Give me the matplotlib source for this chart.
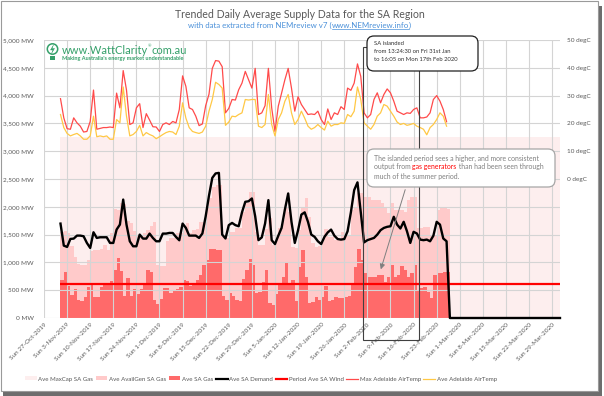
import numpy as np
import pandas as pd
import matplotlib
matplotlib.use('Agg')
import matplotlib.pyplot as plt
import matplotlib.dates as mdates
from matplotlib.patches import Rectangle, FancyBboxPatch, Patch, Circle, Polygon, FancyArrowPatch
from matplotlib.lines import Line2D
from matplotlib.transforms import blended_transform_factory, Affine2D

plt.rcParams['font.family'] = ['Lato', 'DejaVu Sans']

# ---------------- data ----------------
start_date = '2019-11-01'
gas = [690, 834, 570, 420, 520, 330, 300, 370, 560, 600,
       370, 370, 560, 600, 590, 660, 870, 1075, 850, 390,
       725, 390, 520, 440, 520, 630, 860, 820, 330, 250,
       340, 540, 540, 450, 500, 520, 560, 690, 660, 580,
       600, 690, 780, 960, 1050, 1240, 1240, 1230, 1230, 400,
       330, 450, 390, 320, 300, 700, 870, 1060, 960, 450,
       470, 650, 860, 270, 240, 440, 600, 740, 1010, 620,
       680, 300, 920, 1220, 740, 270, 290, 380, 320, 380,
       580, 300, 320, 380, 360, 360, 380, 400, 600, 924,
       1236, 1044, 804, 744, 744, 744, 774, 774, 654, 744,
       954, 744, 774, 936, 864, 744, 804, 954, 504, 534,
       564, 474, 354, 774, 804, 804, 820, 830]
avail = [1548, 1560, 1530, 1290, 1100, 970, 960, 960, 1050, 1200,
         1230, 1230, 1240, 1320, 1230, 1530, 1960, 1950, 2070, 2050,
         1740, 1710, 1560, 1480, 1480, 1530, 1590, 1650, 1720, 960,
         930, 930, 1380, 1440, 1440, 1530, 1530, 1650, 1700, 1530,
         1590, 1600, 1720, 1720, 1980, 2150, 2350, 2400, 2400, 1450,
         1434, 1554, 1554, 1614, 1620, 1914, 2064, 2274, 2274, 1554,
         1314, 1314, 1600, 1794, 1314, 1404, 1614, 1764, 2004, 1900,
         1284, 1254, 1584, 1974, 2154, 1824, 1344, 1284, 1300, 1374,
         1600, 1464, 1464, 1400, 1420, 1554, 1494, 1494, 1944, 2000,
         2244, 2244, 2184, 2184, 2124, 2124, 2124, 2064, 2004, 1884,
         2064, 1944, 1944, 1944, 1914, 2124, 2184, 2184, 1614, 1614,
         1644, 1644, 1500, 1500, 1944, 2000, 1980, 1960]
demand = [1698, 1302, 1278, 1422, 1428, 1482, 1482, 1470, 1350, 1260,
          1542, 1440, 1452, 1452, 1452, 1350, 1350, 1590, 1680, 2130,
          1680, 1380, 1290, 1290, 1500, 1428, 1428, 1518, 1440, 1380,
          1380, 1518, 1518, 1530, 1530, 1458, 1398, 1698, 1620, 1482,
          1482, 1482, 1440, 1520, 1830, 2200, 2520, 2600, 2610, 1500,
          1430, 1670, 1710, 1670, 1650, 1900, 2090, 2100, 2150, 1830,
          1400, 1450, 1700, 2120, 1400, 1330, 1480, 1620, 1950, 2240,
          1730, 1350, 1580, 1860, 1900, 1730, 1500, 1460, 1380, 1330,
          1460, 1540, 1590, 1480, 1420, 1410, 1420, 1560, 1900, 2300,
          2440, 1900, 1360, 1400, 1420, 1440, 1500, 1580, 1620, 1640,
          1650, 1820, 1680, 1610, 1730, 1560, 1350, 1550, 1520, 1410,
          1400, 1410, 1380, 1480, 1730, 1680, 1430, 1380]
max_temp = [28.9, 22.0, 18.1, 17.9, 22.0, 20.2, 19.0, 16.9, 17.1, 20.7,
            32.0, 17.9, 18.2, 18.5, 18.5, 18.7, 18.5, 30.9, 25.6, 39.0,
            32.0, 19.6, 20.2, 25.6, 27.1, 18.5, 23.5, 21.2, 18.8, 18.7,
            17.1, 19.6, 20.2, 19.6, 20.7, 20.2, 25.0, 37.1, 33.3, 25.6,
            25.0, 22.6, 19.2, 19.8, 26.4, 30.5, 39.8, 42.6, 42.4, 40.4,
            23.8, 25.4, 28.6, 28.4, 32.1, 34.5, 38.7, 35.7, 32.7, 39.8,
            23.2, 23.8, 26.4, 39.8, 25.6, 17.1, 26.2, 30.9, 35.7, 39.8,
            32.7, 24.4, 29.6, 26.8, 25.0, 23.2, 23.4, 23.2, 24.4, 21.4,
            19.6, 25.2, 21.4, 23.8, 23.2, 26.0, 25.0, 32.7, 31.9, 34.5,
            41.4, 36.9, 23.8, 22.0, 23.2, 28.6, 31.0, 27.4, 30.4, 32.4,
            31.0, 28.0, 24.4, 23.8, 23.2, 23.8, 23.6, 25.0, 25.6, 22.0,
            22.0, 22.3, 23.8, 28.6, 30.0, 28.0, 25.0, 20.6]
ave_temp = [23.2, 18.5, 16.4, 15.5, 16.0, 16.4, 15.5, 14.3, 14.3, 15.5,
            22.6, 15.2, 15.5, 15.2, 15.5, 14.3, 14.3, 21.4, 20.2, 33.1,
            22.6, 15.5, 16.0, 17.1, 19.3, 15.5, 16.7, 16.0, 15.5, 14.5,
            15.2, 16.0, 16.7, 17.1, 16.9, 16.0, 19.0, 27.4, 21.9, 18.5,
            17.1, 16.7, 16.4, 16.9, 19.0, 24.4, 28.6, 34.8, 34.0, 32.7,
            19.3, 20.5, 22.6, 22.4, 23.2, 23.8, 28.6, 28.4, 28.6, 28.6,
            19.0, 18.5, 19.6, 30.4, 19.6, 15.5, 21.4, 23.8, 28.0, 30.4,
            23.8, 19.6, 21.4, 24.4, 21.9, 19.0, 17.9, 18.5, 19.6, 18.5,
            17.6, 20.8, 19.0, 19.6, 19.6, 20.2, 20.0, 23.2, 22.4, 24.4,
            33.1, 28.6, 20.2, 19.0, 17.9, 19.6, 22.6, 23.8, 26.8, 26.2,
            24.4, 22.6, 20.5, 19.6, 20.0, 19.3, 19.6, 20.0, 19.0, 18.5,
            17.9, 15.9, 18.5, 19.6, 21.4, 23.8, 22.6, 19.0]
maxcap_dates = ['2019-11-01 00:00', '2020-03-31 09:00']
maxcap_values = [3260, 3260]
wind_dates = ['2019-11-01 00:00', '2020-03-31 09:00']
wind_values = [615, 615]
demand_tail_dates = ['2020-02-27 00:00', '2020-03-31 09:00']
demand_tail_values = [0, 0]
islanded = ['2020-01-31 13:24:30', '2020-02-17 16:05:00']

mw_ticks = [0, 500, 1000, 1500, 2000, 2500, 3000, 3500, 4000, 4500, 5000]
degc_ticks = [0, 10, 20, 30, 40, 50]

# ---------------- colours ----------------
c_maxcap = '#fdeeee'
c_avail = '#ffcaca'
c_gas = '#ff6a6a'
c_demand = '#000000'
c_wind = '#ff0000'
c_tmax = '#ff4a4a'
c_tave = '#ffc845'
c_text = '#595959'

W, H = 604, 396
fig = plt.figure(figsize=(W / 100, H / 100), dpi=100)
fig.patch.set_facecolor('white')


def fx(px):
    return px / W


def fy(py):
    return 1 - py / H


def to_dt(lst):
    return pd.to_datetime(lst, format='%Y-%m-%d %H:%M')


ax = fig.add_axes([fx(44), fy(318), (560 - 44) / W, (318 - 40) / H])
ax.set_facecolor('none')

dates = pd.date_range(start_date, periods=len(gas), freq='D')
edges = pd.date_range(start_date, periods=len(gas) + 1, freq='D')
x0 = pd.Timestamp('2019-10-27')
x1 = pd.Timestamp('2020-03-31 09:00')

# columns (drawn as stepped areas so adjacent days join seamlessly)
ax.fill_between(to_dt(maxcap_dates), maxcap_values, 0, color=c_maxcap, lw=0, zorder=0.5)
ax.fill_between(edges, list(avail) + [avail[-1]], 0, step='post', color=c_avail, lw=0, zorder=0.8)
ax.fill_between(edges, list(gas) + [gas[-1]], 0, step='post', color=c_gas, lw=0, zorder=0.9)

# lines
dem_x = list(dates) + list(to_dt(demand_tail_dates))
dem_y = list(demand) + list(demand_tail_values)
ax.plot(to_dt(wind_dates), wind_values, color=c_wind, lw=1.6, zorder=2.2, solid_capstyle='butt')
ax.plot(dem_x, dem_y, color=c_demand, lw=1.7, zorder=2.5, clip_on=False, solid_joinstyle='round')

ax.set_xlim(x0, x1)
ax.set_ylim(0, 5000)
ax.set_yticks(mw_ticks)
ax.set_yticklabels([f'{v:,} MW' for v in mw_ticks], fontsize=4.6, color=c_text)

week_ticks = pd.date_range('2019-10-27', '2020-03-29', freq='7D')
ax.set_xticks(week_ticks)
ax.set_xticklabels([f'{d:%a} {d.day}-{d:%b-%Y}' for d in week_ticks], rotation=45,
                   ha='right', va='top', rotation_mode='anchor', fontsize=4.6, color=c_text)
ax.tick_params(axis='both', length=0)
ax.tick_params(axis='y', pad=7.5)
ax.tick_params(axis='x', pad=3)
ax.set_axisbelow('line')
ax.grid(True, color='#d4d4d4', lw=0.8)
for s in ax.spines.values():
    s.set_visible(False)

# secondary axis
ax2 = ax.twinx()
ax2.plot(dates, max_temp, color=c_tmax, lw=0.9, zorder=3)
ax2.plot(dates, ave_temp, color=c_tave, lw=0.9, zorder=3)
ax2.set_ylim(-50, 50)
ax2.set_yticks(degc_ticks)
ax2.set_yticklabels([f'{v} degC' for v in degc_ticks], fontsize=4.6, color=c_text)
ax2.tick_params(axis='y', length=0, pad=5)
for s in ax2.spines.values():
    s.set_visible(False)
ax2.set_xlim(x0, x1)

# islanded bracket
tr = blended_transform_factory(ax2.transData, ax2.transAxes)
xa = mdates.date2num(pd.Timestamp(islanded[0]))
xb = mdates.date2num(pd.Timestamp(islanded[1]))
ya = (318 - 340) / 278
yb = (318 - 47) / 278
ax2.add_patch(Rectangle((xa, ya), xb - xa, yb - ya, transform=tr, fill=False,
                        ec='#404040', lw=0.8, clip_on=False, zorder=6))

# ---------------- annotation boxes (inch coordinates) ----------------
dt = fig.dpi_scale_trans


def box(px0, py0, px1, py1, ec, lw):
    p = FancyBboxPatch((px0 / 100, (H - py1) / 100), (px1 - px0) / 100, (py1 - py0) / 100,
                       boxstyle='round,pad=0,rounding_size=0.07', transform=dt,
                       fc='white', ec=ec, lw=lw, zorder=10)
    fig.add_artist(p)


box(367, 36, 478, 71, '#202020', 0.9)
for i, t in enumerate(['SA islanded', 'from 13:24:30 on Fri 31st Jan', 'to 16:05 on Mon 17th Feb 2020']):
    fig.text(fx(374), fy(43.5 + 8.2 * i), t, fontsize=4.2, color='#303030', va='center', ha='left', zorder=11)

box(367, 149, 555, 187, '#a6a6a6', 0.9)
fig.add_artist(FancyArrowPatch((406 / 100, (H - 187) / 100), (380 / 100, (H - 272) / 100),
               transform=dt, arrowstyle='-|>,head_length=3,head_width=1.5', color='#7f7f7f', lw=0.7,
               mutation_scale=1, zorder=9))

renderer = fig.canvas.get_renderer()


def rich_line(px, py, pieces, size):
    xcur = fx(px)
    for txt, col in pieces:
        t = fig.text(xcur, fy(py), txt, fontsize=size, color=col, va='center', ha='left', zorder=11)
        bb = t.get_window_extent(renderer=renderer)
        xcur += bb.width / W


grey = '#7f7f7f'
rich_line(374, 158, [('The islanded period sees a higher, and more consistent', grey)], 4.95)
rich_line(374, 167, [('output from ', grey), ('gas generators', '#ff0000'), (' than had been seen through', grey)], 4.95)
rich_line(374, 176, [('much of the summer period.', grey)], 4.95)

# ---------------- titles ----------------
fig.text(0.497, fy(14), 'Trended Daily Average Supply Data for the SA Region', ha='center', va='center',
         fontsize=7.6, color=c_text)
sub_size = 5.7
sub = fig.text(fx(188), fy(25.5), 'with data extracted from NEMreview v7 (', ha='left', va='center',
               fontsize=sub_size, color='#4a90d9')
bb = sub.get_window_extent(renderer=renderer)
lnk = fig.text(fx(188) + bb.width / W, fy(25.5), 'www.NEMreview.info', ha='left', va='center',
               fontsize=sub_size, color='#4a90d9')
bb2 = lnk.get_window_extent(renderer=renderer)
fig.add_artist(Line2D([bb2.x0 / W, bb2.x1 / W], [bb2.y0 / H + 0.001, bb2.y0 / H + 0.001],
                      color='#4a90d9', lw=0.5))
fig.text(bb2.x1 / W, fy(25.5), ')', ha='left', va='center', fontsize=sub_size, color='#4a90d9')

# ---------------- logo ----------------
green = '#35a06a'
fig.add_artist(Circle((52.5 / 100, (H - 49) / 100), 0.052, transform=dt, fill=False, ec=green, lw=1.1))
bolt_tr = Affine2D().scale(0.01, -0.01).translate(0, H / 100) + dt
fig.add_artist(Polygon([[53.5, 45], [50.5, 50], [53, 50], [51.5, 53.5], [54.5, 48.5], [52, 48.5]],
               closed=True, transform=bolt_tr, fc=green, ec=green, lw=0.3))
fig.add_artist(Rectangle((50.3 / 100, (H - 60) / 100), 0.045, 0.045, transform=dt, fc=green, ec='none'))
t1 = fig.text(fx(62), fy(50), 'www.WattClarity', fontsize=8.0, color=green, ha='left', va='center')
b = t1.get_window_extent(renderer=renderer)
t2 = fig.text(b.x1 / W, fy(46.5), '®', fontsize=3.0, color=green, ha='left', va='center')
b2 = t2.get_window_extent(renderer=renderer)
fig.text(b2.x1 / W, fy(50), 'com.au', fontsize=8.0, color=green, ha='left', va='center')
fig.text(fx(62.5), fy(58.5), "Making Australia's energy market understandable", fontsize=4.0,
         color=green, ha='left', va='center', fontweight='bold')

# ---------------- legend ----------------
handles = [Patch(fc=c_maxcap, ec='none'), Patch(fc=c_avail, ec='none'), Patch(fc=c_gas, ec='none'),
           Line2D([], [], color=c_demand, lw=1.6), Line2D([], [], color=c_wind, lw=1.6),
           Line2D([], [], color=c_tmax, lw=0.9), Line2D([], [], color=c_tave, lw=0.9)]
labels = ['Ave MaxCap SA Gas', 'Ave AvailGen SA Gas', 'Ave SA Gas', 'Ave SA Demand',
          'Period Ave SA Wind', 'Max Adelaide AirTemp', 'Ave Adelaide AirTemp']
leg = fig.legend(handles, labels, loc='center', bbox_to_anchor=(fx(261), fy(379)), ncol=7,
                 frameon=False, fontsize=4.4, handlelength=1.9, handleheight=0.6, handletextpad=0.3,
                 columnspacing=0.4, labelcolor=c_text, borderpad=0, borderaxespad=0)

# ---------------- frame with shadow ----------------
fig.add_artist(Rectangle((3 / W, 0.5 / H), 599 / W, 4 / H, transform=fig.transFigure,
                         fc='#6d6d6d', ec='none', zorder=0))
fig.add_artist(Rectangle((598 / W, 0.5 / H), 4 / W, 390 / H, transform=fig.transFigure,
                         fc='#6d6d6d', ec='none', zorder=0))
fig.add_artist(Rectangle((1 / W, 5 / H), 597 / W, 390 / H, transform=fig.transFigure,
                         fc='none', ec='#9a9a9a', lw=0.8, zorder=0))

fig.savefig('out.png', dpi=100, facecolor='white')
